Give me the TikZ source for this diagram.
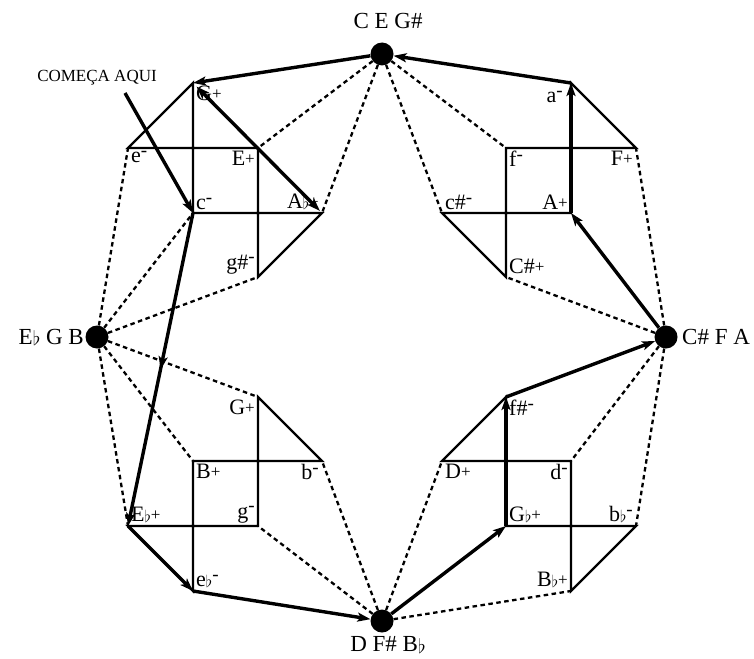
\documentclass[tikz,border=0pt]{standalone}
\usepackage{fontspec}
\setmainfont{Liberation Serif}
\usepackage{graphicx}
\usetikzlibrary{arrows.meta,decorations.markings}
\newcommand\fl{\raisebox{-0.05em}{\scalebox{0.8}{$\flat$}}}
\newcommand\pl{\raisebox{0.05em}{\fontsize{17}{17}\selectfont+}}
\newcommand\mi{\raisebox{0.28em}{\fontsize{19}{19}\selectfont-}}
\newcommand\clusterpts[3]{%
 \coordinate (#1-1) at ({382+(#2)*189},{337+(#3)*254});
 \coordinate (#1-2) at ({382+(#2)*254},{337+(#3)*189});
 \coordinate (#1-3) at ({382+(#2)*124},{337+(#3)*189});
 \coordinate (#1-4) at ({382+(#2)*189},{337+(#3)*124});
 \coordinate (#1-5) at ({382+(#2)*60},{337+(#3)*124});
 \coordinate (#1-6) at ({382+(#2)*124},{337+(#3)*60});
 \draw[shp] (#1-3) -- (#1-2) -- (#1-1) -- (#1-4) -- (#1-5) -- (#1-6) -- cycle;
}
\begin{document}
\begin{tikzpicture}[x=1pt,y=-1pt,
  hub/.style={circle,fill=black,minimum size=23pt,inner sep=0pt},
  shp/.style={line width=2.3pt,line join=miter},
  dsh/.style={line width=2.3pt,dash pattern=on 4.5pt off 3.5pt},
  tip/.style={-{Stealth[length=13pt,width=9pt,inset=3pt]}},
  thk/.style={line width=3.4pt,tip},
  midarrow/.style={postaction={decorate},decoration={markings,
     mark=at position 0.5 with {\arrow{Stealth[length=13pt,width=9pt,inset=3pt]}}}},
  lab/.style={font=\fontsize{22}{22}\selectfont,inner sep=3pt},
  hlab/.style={font=\fontsize{23}{23}\selectfont,inner sep=0pt},
]
\useasboundingbox (0,0) rectangle (754,658);

\clusterpts{TL}{-1}{-1}
\clusterpts{TR}{1}{-1}
\clusterpts{BL}{-1}{1}
\clusterpts{BR}{1}{1}

\node[hub] (T) at (382,54) {};
\node[hub] (L) at (97,337) {};
\node[hub] (R) at (666,337) {};
\node[hub] (B) at (382,621) {};

% dashed connectors
\draw[dsh] (T) -- (TL-3) (T) -- (TL-5) (T) -- (TR-5) (T) -- (TR-3);
\draw[dsh] (L) -- (TL-2) (L) -- (TL-4) (L) -- (TL-6) (L) -- (BL-6) (L) -- (BL-4) (L) -- (BL-2);
\draw[dsh] (R) -- (TR-2) (R) -- (TR-6) (R) -- (BR-4) (R) -- (BR-2);
\draw[dsh] (B) -- (BL-3) (B) -- (BL-5) (B) -- (BR-5) (B) -- (BR-1);

% thick path
\coordinate (start) at (125,93);
\draw[thk] (start) -- (TL-4);
\draw[thk,midarrow] (TL-4) -- (BL-2);
\draw[thk] (BL-2) -- (BL-1);
\draw[thk] (BL-1) -- (B);
\draw[thk] (B) -- (BR-3);
\draw[thk] (BR-3) -- (BR-6);
\draw[thk] (BR-6) -- (R);
\draw[thk] (R) -- (TR-4);
\draw[thk] (TR-4) -- (TR-1);
\draw[thk] (TR-1) -- (T);
\draw[thk] (T) -- (TL-1);
\draw[line width=3.4pt,{Stealth[length=13pt,width=9pt,inset=3pt]}-{Stealth[length=13pt,width=9pt,inset=3pt]},shorten <=5pt,shorten >=3pt] (TL-1) -- (TL-5);

% cluster labels
\node[lab,anchor=north west] (tl1) at (TL-1) {G\pl};
\node[lab,anchor=north west] (tl2) at (TL-2) {e\mi};
\node[lab,anchor=north east] (tl3) at (TL-3) {E\pl};
\node[lab,anchor=south west] (tl4) at (TL-4) {c\mi};
\node[lab,anchor=south east] (tl5) at (TL-5) {A\fl\pl};
\node[lab,anchor=south east] (tl6) at (TL-6) {g\#\mi};

\node[lab,anchor=north east,xshift=-5pt,yshift=-5pt] (tr1) at (TR-1) {a\mi};
\node[lab,anchor=north east] (tr2) at (TR-2) {F\pl};
\node[lab,anchor=north west] (tr3) at (TR-3) {f\mi};
\node[lab,anchor=south east] (tr4) at (TR-4) {A\pl};
\node[lab,anchor=south west] (tr5) at (TR-5) {c\#\mi};
\node[lab,anchor=south west] (tr6) at (TR-6) {C\#\pl};

\node[lab,anchor=south west] (bl1) at (BL-1) {e\fl\mi};
\node[lab,anchor=south west] (bl2) at (BL-2) {E\fl\pl};
\node[lab,anchor=south east] (bl3) at (BL-3) {g\mi};
\node[lab,anchor=north west] (bl4) at (BL-4) {B\pl};
\node[lab,anchor=north east] (bl5) at (BL-5) {b\mi};
\node[lab,anchor=north east] (bl6) at (BL-6) {G\pl};

\node[lab,anchor=south east] (br1) at (BR-1) {B\fl\pl};
\node[lab,anchor=south east] (br2) at (BR-2) {b\fl\mi};
\node[lab,anchor=south west] (br3) at (BR-3) {G\fl\pl};
\node[lab,anchor=north east] (br4) at (BR-4) {d\mi};
\node[lab,anchor=north west] (br5) at (BR-5) {D\pl};
\node[lab,anchor=north west] (br6) at (BR-6) {f\#\mi};

% hub labels
\node[hlab] (tlab) at (388,21) {C E G\#};
\node[hlab,anchor=east] (llab) at (84,337) {E\fl{} G B};
\node[hlab,anchor=west] (rlab) at (682,337) {C\# F A};
\node[hlab] (blab) at (388,645) {D F\# B\fl};

\node[font=\fontsize{17}{17}\selectfont,inner sep=0pt] (start label) at (97,78) {COMEÇA AQUI};
\end{tikzpicture}
\end{document}
